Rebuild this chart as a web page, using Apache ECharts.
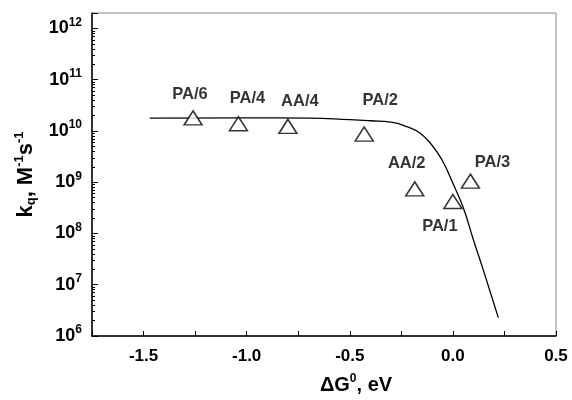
<!DOCTYPE html>
<html>
<head>
<meta charset="utf-8">
<script src="https://cdn.jsdelivr.net/npm/echarts@6/dist/echarts.min.js"></script>
<style>
  html, body { margin: 0; padding: 0; background: #fff; }
  #chart { width: 572px; height: 400px; }
</style>
</head>
<body>
<div id="chart"></div>
<script>
// 数据点（三角形）
var pointNames = ['PA/6', 'PA/4', 'AA/4', 'PA/2', 'AA/2', 'PA/1', 'PA/3'];
var pointDG = [-1.26, -1.04, -0.80, -0.43, -0.185, 0.0, 0.085];
var pointKq = [1.8e10, 1.38e10, 1.23e10, 8.7e9, 7.4e8, 4.2e8, 1.05e9];

// 拟合曲线
var curveDG = [-1.47, -1.0, -0.7, -0.5, -0.4, -0.3, -0.22, -0.16, -0.1, -0.05, 0.0, 0.05, 0.1, 0.15, 0.22];
var curveKq = [1.78e10, 1.8e10, 1.78e10, 1.66e10, 1.58e10, 1.48e10, 1.2e10, 9.1e9, 5.2e9, 2.6e9, 9.5e8, 3.2e8, 7.4e7, 1.8e7, 2.3e6];

// 标签相对默认位置(top)的偏移
var labelOffsets = [[-3, -7], [9, -9], [12, -9], [16, -17], [-8, -9], [-13, 41], [22, -3]];

var chart = echarts.init(document.getElementById('chart'));

var pointData = pointNames.map(function (n, i) {
    return {
        name: n,
        value: [pointDG[i], pointKq[i]],
        label: { offset: labelOffsets[i] }
    };
});
var curveData = curveDG.map(function (x, i) { return [x, curveKq[i]]; });

var FONT = 'Liberation Sans, Arial, sans-serif';

var option = {
    animation: false,
    backgroundColor: '#fff',
    grid: {
        left: 92, right: 16, top: 13, bottom: 56,
        show: true,
        borderColor: '#888',
        borderWidth: 1
    },
    xAxis: {
        type: 'value',
        min: -1.75,
        max: 0.5,
        interval: 0.25,
        splitLine: { show: false },
        axisLine: { onZero: false, lineStyle: { color: '#000', width: 1.5 } },
        axisTick: { inside: true, length: 5, lineStyle: { color: '#000' } },
        axisLabel: {
            color: '#000',
            fontFamily: FONT,
            fontWeight: 'bold',
            fontSize: 17,
            margin: 12,
            formatter: function (v) {
                if (Math.abs(v * 2 - Math.round(v * 2)) < 1e-6) return v.toFixed(1);
                return '';
            }
        },
        name: '{b|ΔG}{sup|0}{b|, eV}',
        nameLocation: 'middle',
        nameGap: 37,
        nameTextStyle: {
            padding: [0, 0, 0, 64],
            rich: {
                b: { fontFamily: FONT, fontWeight: 'bold', fontSize: 20, color: '#000' },
                sup: { fontFamily: FONT, fontWeight: 'bold', fontSize: 12, color: '#000', padding: [0, 0, 12, 0] }
            }
        }
    },
    yAxis: {
        type: 'log',
        logBase: 10,
        min: 1e6,
        max: 2e12,
        splitLine: { show: false },
        axisLine: { show: true, onZero: false, lineStyle: { color: '#000', width: 1.5 } },
        axisTick: { inside: true, length: 6, lineStyle: { color: '#000' } },
        minorTick: { show: true, splitNumber: 9, length: 3, lineStyle: { color: '#000' } },
        axisLabel: {
            margin: 10,
            formatter: function (v) {
                var e = Math.round(Math.log10(v));
                if (Math.abs(Math.log10(v) - e) > 1e-6) return '';
                return '{b|10}{sup|' + e + '}';
            },
            rich: {
                b: { fontFamily: FONT, fontWeight: 'bold', fontSize: 18, color: '#000' },
                sup: { fontFamily: FONT, fontWeight: 'bold', fontSize: 12, color: '#000', padding: [0, 0, 12, 0] }
            }
        },
        name: '{b|k}{sub|q}{b|, M}{sup|-1}{b|s}{sup|-1}',
        nameLocation: 'middle',
        nameGap: 38,
        nameRotate: 90,
        nameTextStyle: {
            rich: {
                b: { fontFamily: FONT, fontWeight: 'bold', fontSize: 22, color: '#000' },
                sub: { fontFamily: FONT, fontWeight: 'bold', fontSize: 13, color: '#000', padding: [10, 0, 0, 0] },
                sup: { fontFamily: FONT, fontWeight: 'bold', fontSize: 13, color: '#000', padding: [0, 0, 14, 0] }
            }
        }
    },
    series: [
        {
            type: 'line',
            data: curveData,
            smooth: true,
            symbol: 'none',
            lineStyle: { color: '#000', width: 1.3 },
            z: 2
        },
        {
            type: 'scatter',
            data: pointData,
            symbol: 'triangle',
            symbolSize: [18, 14],
            itemStyle: { color: '#fff', borderColor: '#000', borderWidth: 1.5 },
            label: {
                show: true,
                position: 'top',
                distance: 0,
                formatter: '{b}',
                color: '#000',
                fontFamily: FONT,
                fontWeight: 'bold',
                fontSize: 16.5
            },
            z: 3
        }
    ]
};

chart.setOption(option);
</script>
</body>
</html>
